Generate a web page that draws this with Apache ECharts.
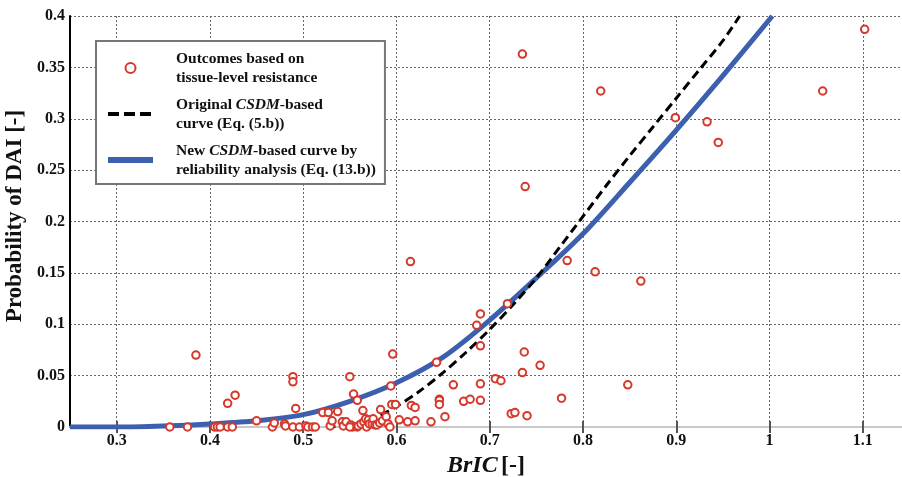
<!DOCTYPE html>
<html>
<head>
<meta charset="utf-8">
<script src="https://cdn.jsdelivr.net/npm/echarts@6/dist/echarts.min.js"></script>
<style>
html,body{margin:0;padding:0;background:#fff;}
#chart{width:902px;height:477px;}
</style>
</head>
<body>
<div id="chart"></div>
<script>
// Scatter: outcomes based on tissue-level resistance
const outcomeBrIC = [0.357,0.376,0.385,0.405,0.408,0.411,0.419,0.419,0.424,0.427,0.450,0.467,0.469,0.480,0.481,0.489,0.489,0.489,0.492,0.496,0.503,0.505,0.510,0.513,0.521,0.527,0.529,0.531,0.537,0.542,0.543,0.546,0.550,0.551,0.553,0.550,0.554,0.558,0.558,0.559,0.564,0.562,0.565,0.567,0.568,0.570,0.571,0.574,0.575,0.577,0.579,0.582,0.583,0.585,0.589,0.591,0.593,0.594,0.596,0.595,0.599,0.603,0.612,0.615,0.616,0.620,0.620,0.637,0.643,0.646,0.646,0.646,0.652,0.661,0.672,0.679,0.686,0.690,0.690,0.690,0.690,0.706,0.712,0.719,0.723,0.727,0.735,0.737,0.740,0.754,0.777,0.783,0.813,0.848,0.862,0.735,0.738,0.819,0.899,0.933,0.945,1.057,1.102];
const outcomeProb  = [0.000,0.000,0.070,0.000,0.000,0.000,0.023,0.000,0.000,0.031,0.006,0.000,0.004,0.003,0.001,0.049,0.044,0.000,0.018,0.000,0.001,0.000,0.000,0.000,0.014,0.014,0.001,0.006,0.015,0.005,0.001,0.005,0.049,0.002,0.000,0.000,0.032,0.026,0.000,0.001,0.016,0.003,0.005,0.008,0.000,0.007,0.003,0.003,0.008,0.002,0.002,0.004,0.017,0.006,0.010,0.003,0.000,0.040,0.071,0.022,0.022,0.007,0.005,0.161,0.021,0.019,0.006,0.005,0.063,0.027,0.026,0.022,0.010,0.041,0.025,0.027,0.099,0.110,0.079,0.042,0.026,0.047,0.045,0.120,0.013,0.014,0.053,0.073,0.011,0.060,0.028,0.162,0.151,0.041,0.142,0.363,0.234,0.327,0.301,0.297,0.277,0.327,0.387];

// Original CSDM-based curve (Eq. (5.b))
const origBrIC = [0.525,0.55,0.575,0.60,0.625,0.65,0.675,0.70,0.725,0.75,0.775,0.80,0.825,0.85,0.875,0.90,0.925,0.95,0.968];
const origProb = [0.000,0.002,0.008,0.020,0.035,0.053,0.073,0.095,0.119,0.145,0.175,0.205,0.235,0.264,0.292,0.320,0.348,0.376,0.400];

// New CSDM-based curve by reliability analysis (Eq. (13.b))
const newBrIC = [0.25,0.30,0.35,0.40,0.45,0.50,0.55,0.60,0.65,0.70,0.75,0.80,0.85,0.90,0.95,1.003];
const newProb = [0.000,0.000,0.001,0.003,0.006,0.012,0.025,0.043,0.068,0.104,0.145,0.188,0.238,0.289,0.342,0.400];

const xTicks = [0.3,0.4,0.5,0.6,0.7,0.8,0.9,1.0,1.1];

const RED = '#d5392c';
const BLUE = '#3c5fae';
const FONT = '"Liberation Serif","DejaVu Serif",serif';

const zip = (a,b) => a.map((v,i)=>[v,b[i]]);

const chart = echarts.init(document.getElementById('chart'), null, {renderer:'canvas'});

const LFS = 15.5;
const richText = {
  b: {fontFamily: FONT, fontWeight:'bold', fontSize:LFS, color:'#111', lineHeight:19},
  i: {fontFamily: FONT, fontWeight:'bold', fontStyle:'italic', fontSize:LFS, color:'#111', lineHeight:19}
};

chart.setOption({
  animation:false,
  backgroundColor:'#fff',
  grid:{left:70, right:0, top:16, bottom:50, containLabel:false, outerBoundsMode:'none'},
  legend:{
    orient:'vertical',
    left:96, top:41,
    backgroundColor:'#fff',
    borderColor:'#777',
    borderWidth:2,
    padding:[8,9,5,9],
    itemGap:8,
    itemWidth:45,
    itemHeight:10,
    textStyle:{fontFamily:FONT, fontWeight:'bold', fontSize:LFS, lineHeight:19, color:'#111', padding:[0,0,0,18], rich:richText},
    data:[
      {name:'outcomes', icon:'circle', itemStyle:{color:'#fff', borderColor:RED, borderWidth:2}},
      {name:'original', itemStyle:{opacity:0}, lineStyle:{color:'#000', width:4, type:[11,5]}},
      {name:'new', itemStyle:{opacity:0}, lineStyle:{color:BLUE, width:6, type:'solid'}}
    ],
    formatter: function(name){
      if(name==='outcomes') return '{b|Outcomes based on}\n{b|tissue-level resistance}';
      if(name==='original') return '{b|Original }{i|CSDM}{b|-based}\n{b|curve (Eq. (5.b))}';
      return '{b|New }{i|CSDM}{b|-based curve by}\n{b|reliability analysis (Eq. (13.b))}';
    }
  },
  xAxis:[{
    type:'value', min:0.25, max:1.142,
    name:'{i|BrIC} {b|[-]}',
    nameLocation:'middle', nameGap:22,
    nameTextStyle:{rich:{
      i:{fontFamily:FONT, fontWeight:'bold', fontStyle:'italic', fontSize:24, color:'#111'},
      b:{fontFamily:FONT, fontWeight:'bold', fontSize:24, color:'#111'}
    }},
    axisLine:{show:true, onZero:false, lineStyle:{color:'#000', width:2}},
    axisTick:{show:true, inside:true, length:6, customValues:xTicks, lineStyle:{color:'#555', width:2}},
    axisLabel:{customValues:xTicks, margin:6, fontFamily:FONT, fontWeight:'bold', fontSize:16, color:'#111',
      formatter:v=>String(Math.round(v*10)/10)},
    splitLine:{show:true, lineStyle:{color:'#666', width:1, type:[2,2]}}
  },{
    type:'value', min:0.25, max:1.142, position:'top',
    axisLine:{show:true, lineStyle:{color:'#c8c8c8', width:2}},
    axisTick:{show:true, inside:true, length:6, customValues:xTicks, lineStyle:{color:'#555', width:2}},
    axisLabel:{show:false},
    splitLine:{show:false}
  }],
  yAxis:{
    type:'value', min:0, max:0.4, interval:0.05,
    name:'Probability of DAI [-]',
    nameLocation:'middle', nameGap:39,
    nameTextStyle:{fontFamily:FONT, fontWeight:'bold', fontSize:23, color:'#111', padding:[0,0,0,11]},
    axisLine:{show:true, lineStyle:{color:'#000', width:2}},
    axisTick:{show:false},
    axisLabel:{margin:5, fontFamily:FONT, fontWeight:'bold', fontSize:16, color:'#111',
      formatter:v=>String(Math.round(v*100)/100)},
    splitLine:{show:true, lineStyle:{color:'#666', width:1, type:[2,2]}}
  },
  series:[
    {
      name:'new', type:'line', data:zip(newBrIC,newProb), smooth:0.3, symbol:'none', z:3,
      lineStyle:{color:BLUE, width:5}, itemStyle:{color:BLUE}
    },
    {
      name:'original', type:'line', data:zip(origBrIC,origProb), smooth:0.3, symbol:'none', z:4,
      lineStyle:{color:'#000', width:3, type:[9,5]}, itemStyle:{color:'#000'}
    },
    {
      name:'outcomes', type:'scatter', data:zip(outcomeBrIC,outcomeProb), symbol:'circle', symbolSize:7.5, z:5,
      itemStyle:{color:'#fff', borderColor:RED, borderWidth:2, opacity:1}
    }
  ]
});
</script>
</body>
</html>
